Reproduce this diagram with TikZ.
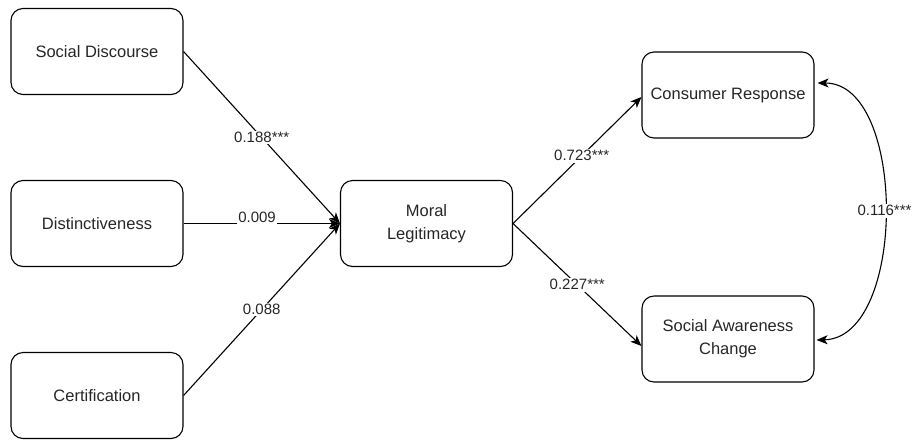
\documentclass[tikz,border=0pt]{standalone}
\usepackage{fontspec}
\setmainfont{Liberation Sans}
\usetikzlibrary{arrows.meta}
\begin{document}
\begin{tikzpicture}[x=1pt,y=-1pt,
  box/.style={draw, line width=1.1pt, rounded corners=12pt,
    minimum width=172pt, minimum height=86pt, align=center, inner sep=0pt,
    font=\fontsize{16.5}{23}\selectfont, text=black!85},
  tip/.tip={Stealth[length=11pt,width=9pt,inset=3pt]},
  link/.style={draw, line width=1.1pt, -tip},
  twoway/.style={draw, line width=1.1pt, tip-tip},
  coef/.style={fill=white, inner sep=1.5pt, font=\fontsize{15}{18}\selectfont, text=black!85}]
\useasboundingbox (0,0) rectangle (920,440);

% constructs
\node[box] (sd) at (97,51.5)   {Social Discourse};
\node[box] (di) at (97,223.5)  {Distinctiveness};
\node[box] (ce) at (97,395.5)  {Certification};
\node[box] (ml) at (426.5,223.5) {Moral\\Legitimacy};
\node[box] (cr) at (728,95)    {Consumer Response};
\node[box] (sa) at (728,339)   {Social Awareness\\Change};

% paths into moral legitimacy
\draw[link] (sd.east) -- node[coef] {0.188***} (ml.west);
\draw[link] (di.east) -- node[coef, pos=0.47, yshift=6pt] {0.009} (ml.west);
\draw[link] (ce.east) -- node[coef] {0.088} (ml.west);

% paths out of moral legitimacy
\draw[link] (ml.east) -- node[coef, pos=0.535] {0.723***} ([yshift=-2]cr.west);
\draw[link] (ml.east) -- node[coef] {0.227***} ([yshift=-7]sa.west);

% covariance between outcomes
\draw[twoway] ([shift={(3,-12)}]cr.east) .. controls (907,83) and (907,338)
  .. node[coef] {0.116***} ([shift={(2,1)}]sa.east);
\end{tikzpicture}
\end{document}
